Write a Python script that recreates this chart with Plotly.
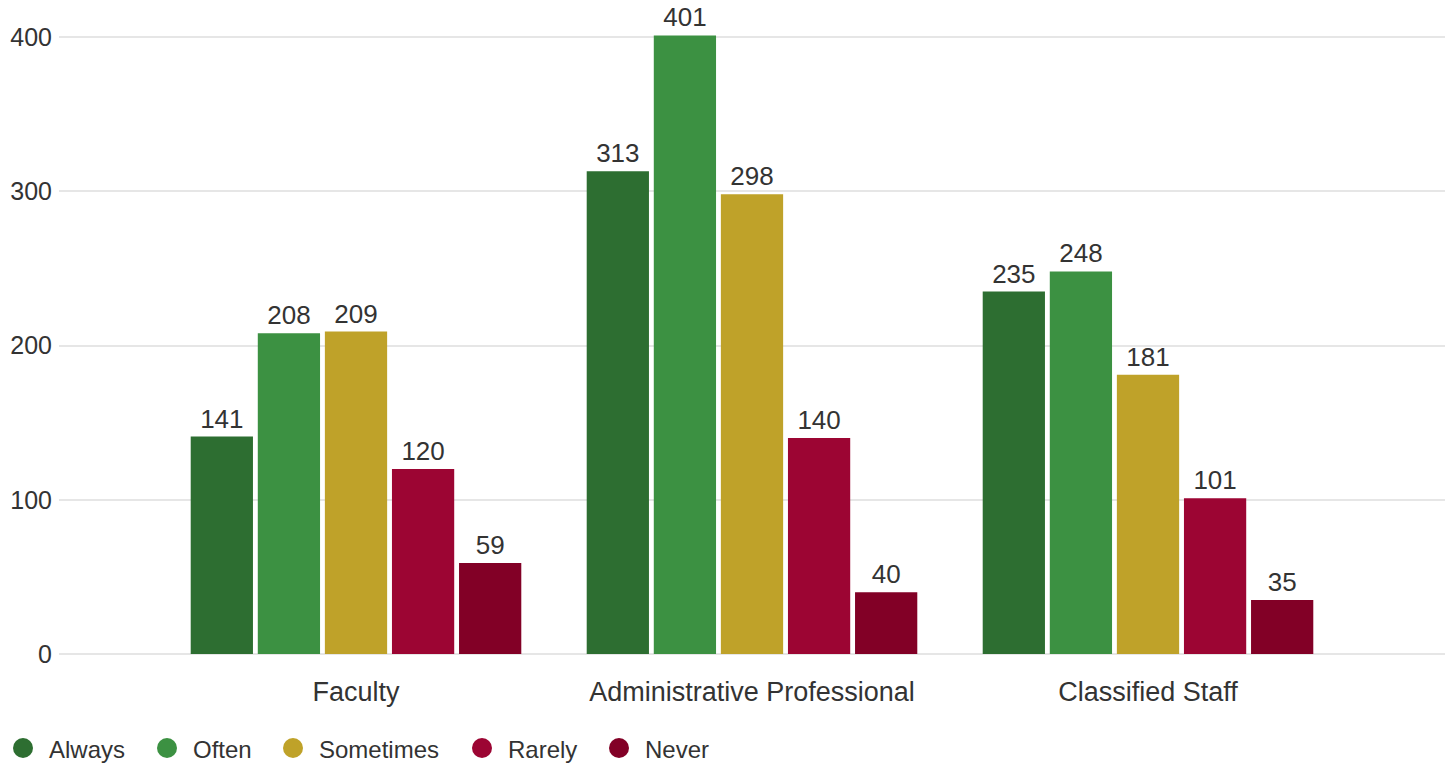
import plotly.graph_objects as go

# Survey response counts by employee group
groups = ["Faculty", "Administrative Professional", "Classified Staff"]
responses = ["Always", "Often", "Sometimes", "Rarely", "Never"]
always = [141, 313, 235]
often = [208, 401, 248]
sometimes = [209, 298, 181]
rarely = [120, 140, 101]
never = [59, 40, 35]
y_ticks = [0, 100, 200, 300, 400]

series = [always, often, sometimes, rarely, never]
colors = ["#2d6e31", "#3c9142", "#bfa229", "#9c0533", "#820026"]

W, H = 1451, 767
ML, MR, MT, MB = 59, 6, 10, 113
FONT = "Liberation Sans, Arial, sans-serif"
TXT = "#333333"

fig = go.Figure()
for name, vals, col in zip(responses, series, colors):
    fig.add_trace(go.Bar(
        x=groups, y=vals, name=name,
        marker=dict(color=col, line=dict(width=0)),
        text=[str(v) for v in vals], textposition="outside",
        textfont=dict(size=26, color=TXT, family=FONT),
        cliponaxis=False, showlegend=False,
    ))

# Legend drawn as circles plus labels along the bottom
legend_x = [23, 167, 293, 482, 619]
pw = W - ML - MR
ph = H - MT - MB
shapes = []
annotations = []
for lx, name, col in zip(legend_x, responses, colors):
    px = (lx - ML) / pw
    py = (H - MB - 748) / ph
    shapes.append(dict(
        type="circle", xref="paper", yref="paper",
        xsizemode="pixel", ysizemode="pixel",
        xanchor=px, yanchor=py, x0=-10, x1=10, y0=-10, y1=10,
        fillcolor=col, line=dict(width=0),
    ))
    annotations.append(dict(
        xref="paper", yref="paper", x=(lx + 24 - ML) / pw, y=py - 1 / ph,
        text=name, showarrow=False, xanchor="left", yanchor="middle",
        font=dict(size=24, color=TXT, family=FONT),
    ))

ymax = 400 * ph / (654 - 37)

fig.update_layout(
    width=W, height=H,
    margin=dict(l=ML, r=MR, t=MT, b=MB),
    plot_bgcolor="white", paper_bgcolor="white",
    barmode="group", bargap=0.153, bargroupgap=0.072,
    font=dict(family=FONT, color=TXT, size=24),
    uniformtext=dict(mode=False),
    shapes=shapes, annotations=annotations,
    xaxis=dict(
        range=[-0.75, 2.75], showgrid=False, zeroline=False, showline=False,
        ticks="", ticklabelstandoff=19,
        tickfont=dict(size=27, color=TXT, family=FONT),
    ),
    yaxis=dict(
        range=[0, ymax], tickvals=y_ticks, showgrid=True,
        gridcolor="#e6e6e6", gridwidth=2, zeroline=True,
        zerolinecolor="#e6e6e6", zerolinewidth=2, showline=False,
        ticks="", ticklabelstandoff=6,
        tickfont=dict(size=25, color=TXT, family=FONT),
    ),
)

fig.write_html("out.html")
